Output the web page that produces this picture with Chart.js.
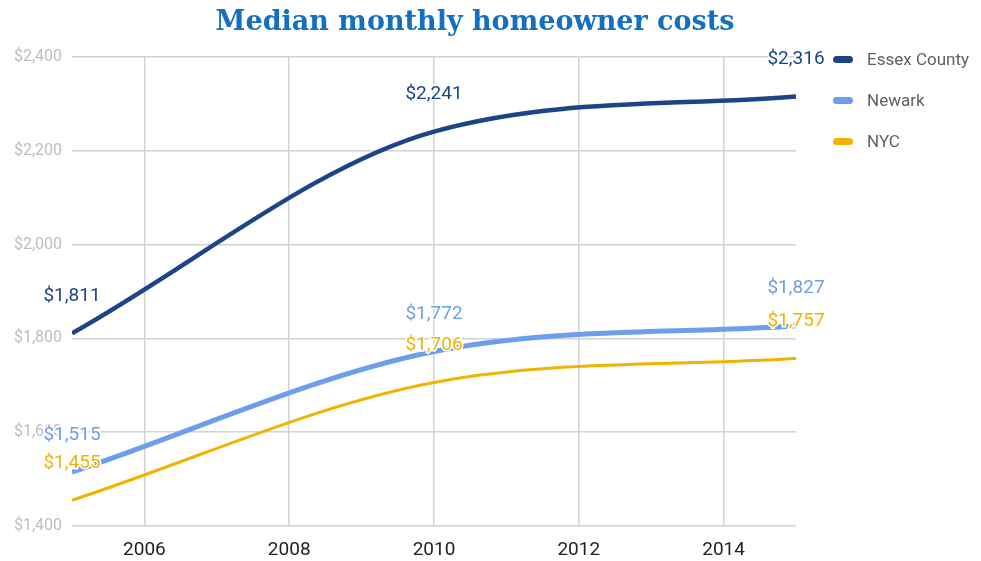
<!DOCTYPE html>
<html>
<head>
<meta charset="utf-8">
<script src="https://cdn.jsdelivr.net/npm/chart.js@4.4.0/dist/chart.umd.min.js"></script>
<style>
  html, body { margin: 0; padding: 0; background: #fff; }
  #wrap { position: relative; width: 981px; height: 561px; }
  #title {
    position: absolute; left: 0; top: 5px; width: 950px; text-align: center;
    font: bold 27px "DejaVu Serif", "Liberation Serif", serif; color: #1470bf;
  }
  #legend { position: absolute; left: 833px; top: 46px; font: 17px Roboto, sans-serif; color: #616161; }
  .item { display: flex; align-items: center; height: 26px; margin-bottom: 15px; }
  .swatch { width: 20px; height: 7px; border-radius: 4px; margin-right: 14px; }
</style>
</head>
<body>
<div id="wrap">
  <canvas id="chart" width="981" height="561"></canvas>
  <div id="title">Median monthly homeowner costs</div>
  <div id="legend"></div>
</div>
<script>
// data
const years = [2005, 2010, 2015];
const essex = [1811, 2241, 2316];
const newark = [1515, 1772, 1827];
const nyc = [1455, 1706, 1757];
const seriesNames = ['Essex County', 'Newark', 'NYC'];
const seriesColors = ['#1c4587', '#6d9eeb', '#f1b300'];
const xTicks = [2006, 2008, 2010, 2012, 2014];
const yTicks = [1400, 1600, 1800, 2000, 2200, 2400];

const money = v => '$' + v.toLocaleString('en-US');

// legend
const legend = document.getElementById('legend');
seriesNames.forEach((name, i) => {
    const row = document.createElement('div');
    row.className = 'item';
    row.innerHTML = '<span class="swatch" style="background:' + seriesColors[i] + '"></span>' + name;
    legend.appendChild(row);
});

// labels above each point, with a white halo
const pointLabels = {
    id: 'pointLabels',
    afterDatasetsDraw(chart) {
        const ctx = chart.ctx;
        ctx.save();
        ctx.font = '19px Roboto, sans-serif';
        ctx.textAlign = 'center';
        ctx.textBaseline = 'middle';
        chart.data.datasets.forEach((ds, i) => {
            chart.getDatasetMeta(i).data.forEach((pt, j) => {
                const txt = money(ds.data[j].y);
                ctx.lineWidth = 3;
                ctx.strokeStyle = '#fff';
                ctx.strokeText(txt, pt.x, pt.y - 37);
                ctx.fillStyle = seriesColors[i];
                ctx.fillText(txt, pt.x, pt.y - 37);
            });
        });
        ctx.restore();
    }
};

const widths = [4.5, 5, 3];
const datasets = [essex, newark, nyc].map((vals, i) => ({
    label: seriesNames[i],
    data: vals.map((v, j) => ({ x: years[j], y: v })),
    borderColor: seriesColors[i],
    borderWidth: widths[i],
    pointRadius: 0,
    cubicInterpolationMode: 'monotone',
    fill: false
}));

new Chart(document.getElementById('chart').getContext('2d'), {
    type: 'line',
    data: { datasets: datasets },
    options: {
        responsive: false,
        animation: false,
        layout: { padding: { top: 57, right: 185, left: 0, bottom: 0 } },
        plugins: { legend: { display: false }, tooltip: { enabled: false } },
        scales: {
            x: {
                type: 'linear',
                min: 2005,
                max: 2015,
                afterBuildTicks: s => { s.ticks = xTicks.map(v => ({ value: v })); },
                afterFit: s => { s.height = 35; },
                ticks: {
                    callback: v => String(v),
                    color: '#222',
                    font: { family: 'Roboto', size: 19 },
                    padding: 13,
                    maxRotation: 0
                },
                grid: { color: '#d2d2d2', lineWidth: 1.5, drawTicks: false },
                border: { display: false }
            },
            y: {
                min: 1400,
                max: 2400,
                afterBuildTicks: s => { s.ticks = yTicks.map(v => ({ value: v })); },
                afterFit: s => { s.width = 72; },
                ticks: {
                    callback: v => money(v),
                    color: '#bdbdbd',
                    font: { family: 'Roboto', size: 16 },
                    padding: 10
                },
                grid: { color: '#d2d2d2', lineWidth: 1.5, drawTicks: false },
                border: { display: false }
            }
        }
    },
    plugins: [pointLabels]
});
</script>
</body>
</html>
